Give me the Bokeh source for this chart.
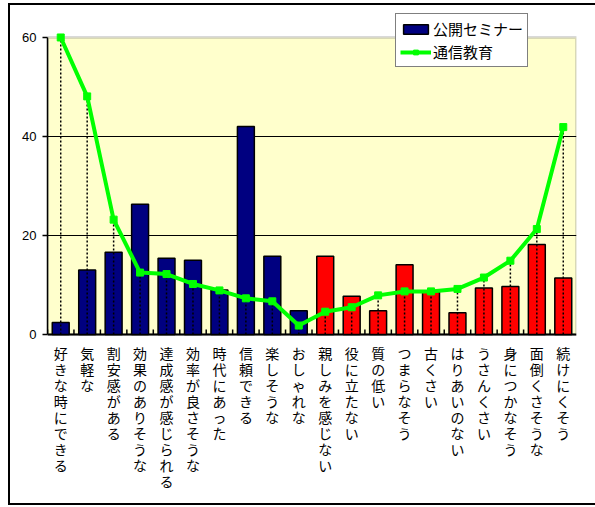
from bokeh.plotting import figure
from bokeh.models import (ColumnDataSource, FactorRange, Range1d, FixedTicker,
                          Legend, LegendItem, BoxAnnotation, Span)
from bokeh.core.properties import value
from bokeh.transform import dodge
from bokeh.embed import file_html
from bokeh.resources import INLINE

# Image words: first ten are positive, last ten negative
categories = ["好きな時にできる", "気軽な", "割安感がある", "効果のありそうな",
              "達成感が感じられる", "効率が良さそうな", "時代にあった", "信頼できる",
              "楽しそうな", "おしゃれな", "親しみを感じない", "役に立たない",
              "質の低い", "つまらなそう", "古くさい", "はりあいのない",
              "うさんくさい", "身につかなそう", "面倒くさそうな", "続けにくそう"]
seminar = [2.4, 13.0, 16.6, 26.3, 15.4, 15.0, 9.0, 42.0, 15.8, 4.8,
           15.8, 7.7, 4.8, 14.1, 8.7, 4.4, 9.4, 9.7, 18.2, 11.4]
correspondence = [60.0, 48.1, 23.2, 12.5, 12.2, 10.2, 8.9, 7.3, 6.7, 1.8,
                  4.6, 5.5, 7.9, 8.7, 8.7, 9.2, 11.5, 14.9, 21.3, 41.9]
n_positive = 10
y_ticks = [0, 20, 40, 60]
series_names = ["公開セミナー", "通信教育"]

# The frame spans the whole chart body so the legend and the vertical
# category labels are drawn inside it; the value axis is bounded to 0-60.
p = figure(x_range=FactorRange(factors=categories, range_padding=0),
           y_range=Range1d(-34.15, 65.45),
           frame_width=529, frame_height=493,
           x_axis_location=None, output_backend="svg", toolbar_location=None,
           min_border_left=37, min_border_right=19, min_border_top=5,
           min_border_bottom=0, border_fill_color="white",
           background_fill_color="white")
p.styles = {"margin-left": "8px", "margin-top": "3px",
            "border-top": "2px solid black", "border-left": "2px solid black",
            "border-bottom": "2px solid black"}
p.outline_line_color = None

# plot area background
p.add_layout(BoxAnnotation(bottom=y_ticks[0], top=y_ticks[-1], level="image",
                           fill_color="#FFFFCC", fill_alpha=1.0,
                           line_color="#808080", line_width=3))

pos_src = ColumnDataSource(dict(cat=categories[:n_positive], v=seminar[:n_positive]))
neg_src = ColumnDataSource(dict(cat=categories[n_positive:], v=seminar[n_positive:]))
line_src = ColumnDataSource(dict(cat=categories, v=correspondence))

bar_pos = p.vbar(x="cat", top="v", bottom=0, width=0.64, source=pos_src,
                 fill_color="#000080", line_color="black", line_width=1.5)
p.vbar(x="cat", top="v", bottom=0, width=0.64, source=neg_src,
       fill_color="#FF0000", line_color="black", line_width=1.5)

# category axis line and boundary ticks pointing up from it
p.add_layout(Span(location=0, dimension="width", line_color="black",
                  line_width=2, level="underlay"))
p.segment(x0=dodge("cat", -0.5, range=p.x_range), y0=0,
          x1=dodge("cat", -0.5, range=p.x_range), y1=1.0,
          source=line_src, line_color="black", line_width=1.5)

# drop lines from the line series to the axis
p.segment(x0="cat", y0=0, x1="cat", y1="v", source=line_src,
          line_color="black", line_dash="2 2", line_width=1.5)

line_r = p.line(x="cat", y="v", source=line_src, line_color="#00FF00", line_width=4)
mark_r = p.scatter(x="cat", y="v", source=line_src, marker="square", size=7,
                   fill_color="#00FF00", line_color="#00FF00")

# vertical category labels, one character per row
char_rows = dict(cat=[], ch=[], off=[])
for c in categories:
    for k, ch in enumerate(c):
        char_rows["cat"].append(c)
        char_rows["ch"].append(ch)
        char_rows["off"].append(19 + 16 * k)
p.text(x="cat", y=0, text="ch", y_offset="off", source=ColumnDataSource(char_rows),
       text_font=value("Noto Sans CJK JP"), text_font_size="14px",
       text_color="black", text_align="center", text_baseline="middle")

p.xgrid.visible = False
p.ygrid.ticker = FixedTicker(ticks=y_ticks[1:-1])
p.ygrid.grid_line_color = "black"
p.ygrid.grid_line_width = 1.2

p.yaxis.bounds = (y_ticks[0], y_ticks[-1])
p.yaxis.ticker = FixedTicker(ticks=y_ticks)
p.yaxis.major_tick_out = 5
p.yaxis.major_tick_in = 0
p.yaxis.minor_tick_out = 0
p.yaxis.axis_line_width = 1.5
p.yaxis.axis_line_color = "black"
p.yaxis.major_tick_line_width = 1.5
p.yaxis.major_label_standoff = 6
p.yaxis.major_label_text_font = "Liberation Sans"
p.yaxis.major_label_text_font_size = "13px"
p.yaxis.major_label_text_color = "black"

legend = Legend(items=[LegendItem(label=series_names[0], renderers=[bar_pos]),
                       LegendItem(label=series_names[1], renderers=[line_r, mark_r])],
                location=(348, 436), orientation="vertical",
                background_fill_color="white", background_fill_alpha=1.0,
                border_line_color="black", border_line_width=1.5,
                label_text_font="Noto Sans CJK JP", label_text_font_size="15px",
                label_text_color="black", glyph_width=31, glyph_height=12,
                label_height=20, label_standoff=2, padding=4, spacing=2, margin=0)
p.add_layout(legend)

open("out.html", "w").write(file_html(p, INLINE))
